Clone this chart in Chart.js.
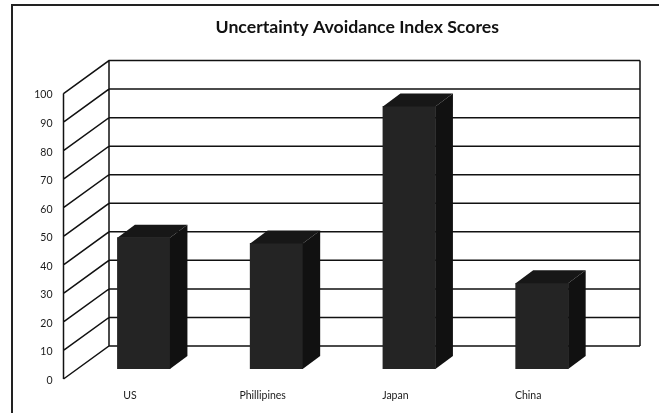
<!DOCTYPE html>
<html>
<head>
<meta charset="utf-8">
<title>Uncertainty Avoidance Index Scores</title>
<script src="https://cdn.jsdelivr.net/npm/chart.js@4/dist/chart.umd.min.js"></script>
<style>
  html, body { margin: 0; padding: 0; background: #fff; }
  canvas { display: block; }
</style>
</head>
<body>
<canvas id="scoreChart" width="659" height="413"></canvas>
<script>
const countries = ['US', 'Phillipines', 'Japan', 'China'];
const scores = [46, 44, 92, 30];
const yTicks = [0, 10, 20, 30, 40, 50, 60, 70, 80, 90, 100];

const lineColor = '#111';
const labelColor = '#1a1a1a';

// fake 3D: the back wall sits up and to the right of the axis plane
const wallDx = 45.5;
const wallDy = -33;
// bars stand part way into the floor
const barShiftX = 13.8;
const barShiftY = -10;
const barDepthX = 17.5;
const barDepthY = -13;

const frame3d = {
  id: 'frame3d',
  beforeLayout(chart) {
    chart.options.layout.padding = { left: 0, right: 64.5, top: 0, bottom: 0 };
  },
  afterLayout(chart) {
    // title is centred well right of the axis box middle
    chart.titleBlock.left += 60;
    chart.titleBlock.right += 60;
  },
  beforeDraw(chart) {
    const ctx = chart.ctx;
    ctx.save();
    ctx.strokeStyle = '#222';
    ctx.lineWidth = 2;
    ctx.beginPath();
    ctx.moveTo(12, 413);
    ctx.lineTo(12, 5);
    ctx.lineTo(659, 5);
    ctx.stroke();
    ctx.restore();
  },
  beforeDatasetsDraw(chart) {
    const ctx = chart.ctx;
    const { left, right, top, bottom } = chart.chartArea;
    const yScale = chart.scales.y;
    ctx.save();
    ctx.strokeStyle = lineColor;
    ctx.lineWidth = 1.5;
    ctx.beginPath();
    // front and back edges of the side wall, right edge of the back wall
    ctx.moveTo(left, top);
    ctx.lineTo(left, bottom);
    ctx.moveTo(left + wallDx, top + wallDy);
    ctx.lineTo(left + wallDx, bottom + wallDy);
    ctx.moveTo(right + wallDx, top + wallDy);
    ctx.lineTo(right + wallDx, bottom + wallDy);
    yScale.ticks.forEach(t => {
      const y = yScale.getPixelForValue(t.value);
      ctx.moveTo(left, y);
      ctx.lineTo(left + wallDx, y + wallDy);
      ctx.lineTo(right + wallDx, y + wallDy);
    });
    ctx.stroke();
    ctx.restore();
    // front faces get drawn by Chart.js inside this shift
    ctx.save();
    ctx.translate(barShiftX, barShiftY);
  },
  afterDatasetsDraw(chart) {
    const ctx = chart.ctx;
    ctx.restore();
    chart.getDatasetMeta(0).data.forEach(bar => {
      const x0 = bar.x - bar.width / 2 + barShiftX;
      const x1 = bar.x + bar.width / 2 + barShiftX;
      const yTop = bar.y + barShiftY;
      const yBase = bar.base + barShiftY;
      ctx.fillStyle = '#171717';
      ctx.beginPath();
      ctx.moveTo(x0, yTop);
      ctx.lineTo(x0 + barDepthX, yTop + barDepthY);
      ctx.lineTo(x1 + barDepthX, yTop + barDepthY);
      ctx.lineTo(x1, yTop);
      ctx.closePath();
      ctx.fill();
      ctx.fillStyle = '#111';
      ctx.beginPath();
      ctx.moveTo(x1, yTop);
      ctx.lineTo(x1 + barDepthX, yTop + barDepthY);
      ctx.lineTo(x1 + barDepthX, yBase + barDepthY);
      ctx.lineTo(x1, yBase);
      ctx.closePath();
      ctx.fill();
    });
  }
};

new Chart(document.getElementById('scoreChart'), {
  type: 'bar',
  data: {
    labels: countries,
    datasets: [{
      data: scores,
      backgroundColor: '#242424',
      barThickness: 52.5
    }]
  },
  options: {
    responsive: false,
    animation: false,
    plugins: {
      legend: { display: false },
      tooltip: { enabled: false },
      title: {
        display: true,
        text: 'Uncertainty Avoidance Index Scores',
        color: '#111',
        font: { family: 'Lato', size: 17.7, weight: 'bold' },
        padding: { top: 17, bottom: 55.3 }
      }
    },
    scales: {
      x: {
        grid: { display: false, drawTicks: false },
        border: { display: false },
        ticks: {
          color: labelColor,
          font: { family: 'Lato', size: 10.5 },
          padding: 10
        },
        afterFit(scale) { scale.height = 34; }
      },
      y: {
        min: 0,
        max: 100,
        grid: { display: false, drawTicks: false },
        border: { display: false },
        afterBuildTicks(scale) {
          scale.ticks = yTicks.map(value => ({ value }));
        },
        ticks: {
          color: labelColor,
          font: { family: 'Lato', size: 10.5 },
          padding: 11,
          labelOffset: 1.5
        },
        afterFit(scale) { scale.width = 63.5; }
      }
    }
  },
  plugins: [frame3d]
});
</script>
</body>
</html>
